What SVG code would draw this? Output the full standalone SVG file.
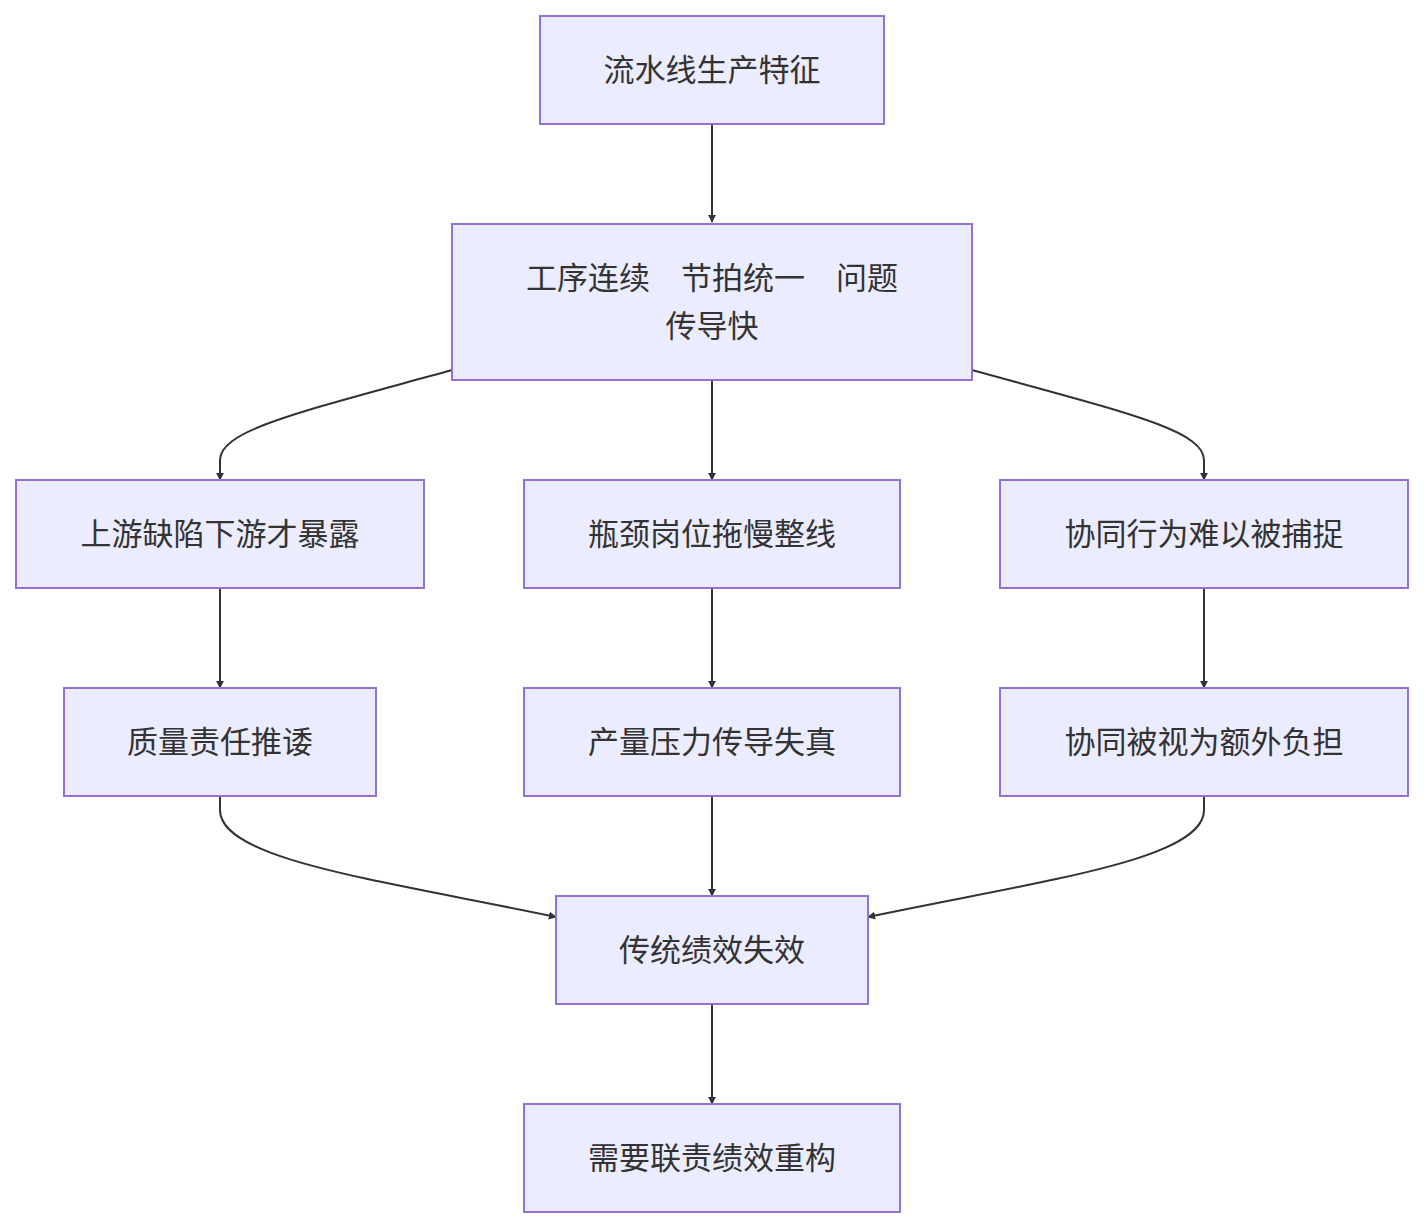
<svg xmlns="http://www.w3.org/2000/svg" width="1424" height="1228" viewBox="0 0 1424 1228">
<style>
.n rect{fill:#ECECFF;stroke:#9370DB;stroke-width:2}
.n text{font-family:"Liberation Sans","Noto Sans CJK SC",sans-serif;font-size:31px;fill:#333;text-anchor:middle;dominant-baseline:central}
.e path{fill:none;stroke:#333;stroke-width:2;marker-end:url(#ah)}
</style>
<defs><marker id="ah" viewBox="0 0 10 10" refX="9" refY="5" markerWidth="8" markerHeight="8" markerUnits="userSpaceOnUse" orient="auto"><path d="M0,0L10,5L0,10z" fill="#333"/></marker></defs>
<rect width="1424" height="1228" fill="#fff"/>
<g id="edges" class="e">
<path d="M712,124V222"/>
<path d="M452,370C300,412 220,430 220,460V480" style="stroke-width:2"/>
<path d="M712,380V480"/>
<path d="M972,370C1124,412 1204,430 1204,460V480"/>
<path d="M220,588V688"/>
<path d="M712,588V688"/>
<path d="M1204,588V688"/>
<path d="M220,796V810C220,860 380,880 556,917"/>
<path d="M712,796V896"/>
<path d="M1204,796V810C1204,860 1044,880 868,917"/>
<path d="M712,1004V1104"/>
</g>
<g id="A" class="n"><rect x="540" y="16" width="344" height="108"/><text x="712" y="70">流水线生产特征</text></g>
<g id="B" class="n"><rect x="452" y="224" width="520" height="156"/><text x="712" y="278">工序连续　节拍统一　问题</text><text x="712" y="326">传导快</text></g>
<g id="C1" class="n"><rect x="16" y="480" width="408" height="108"/><text x="220" y="534">上游缺陷下游才暴露</text></g>
<g id="C2" class="n"><rect x="524" y="480" width="376" height="108"/><text x="712" y="534">瓶颈岗位拖慢整线</text></g>
<g id="C3" class="n"><rect x="1000" y="480" width="408" height="108"/><text x="1204" y="534">协同行为难以被捕捉</text></g>
<g id="D1" class="n"><rect x="64" y="688" width="312" height="108"/><text x="220" y="742">质量责任推诿</text></g>
<g id="D2" class="n"><rect x="524" y="688" width="376" height="108"/><text x="712" y="742">产量压力传导失真</text></g>
<g id="D3" class="n"><rect x="1000" y="688" width="408" height="108"/><text x="1204" y="742">协同被视为额外负担</text></g>
<g id="E" class="n"><rect x="556" y="896" width="312" height="108"/><text x="712" y="950">传统绩效失效</text></g>
<g id="F" class="n"><rect x="524" y="1104" width="376" height="108"/><text x="712" y="1158">需要联责绩效重构</text></g>
</svg>
